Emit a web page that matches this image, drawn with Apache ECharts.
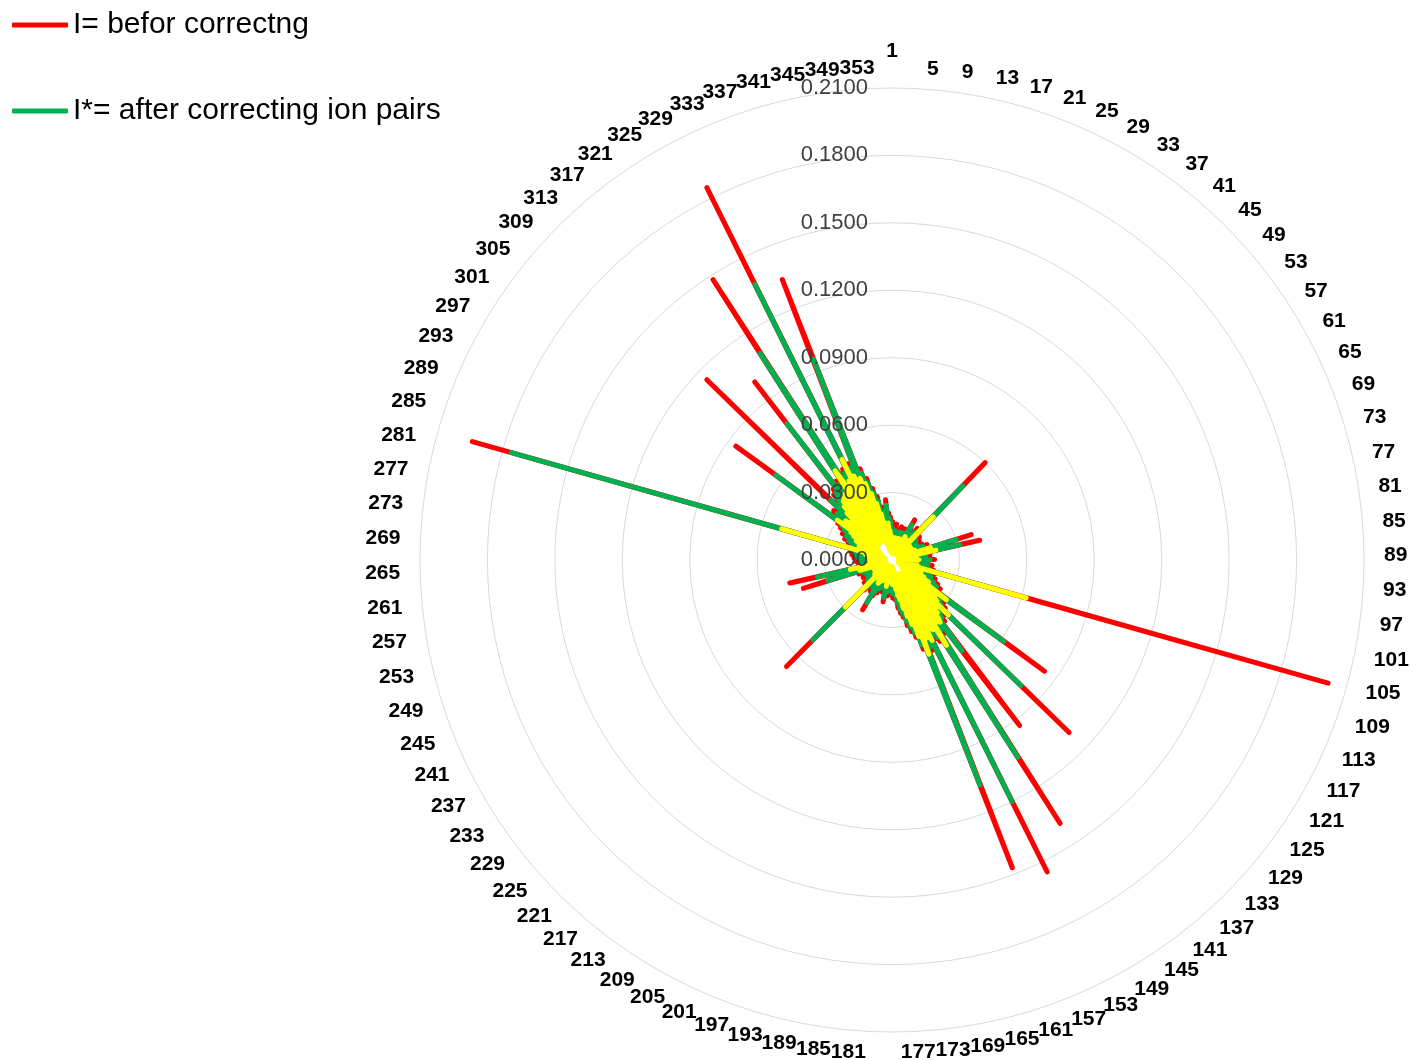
<!DOCTYPE html>
<html>
<head>
<meta charset="utf-8">
<script src="https://cdn.jsdelivr.net/npm/echarts@6/dist/echarts.min.js"></script>
<style>
  html, body { margin: 0; padding: 0; background: #ffffff; }
  #chart { width: 1416px; height: 1060px; }
</style>
</head>
<body>
<div id="chart"></div>
<script>
// 354 angular categories, labelled 1..354 (every 4th label is shown)
const categories = Array.from({ length: 354 }, (_, i) => String(i + 1));

// radial ticks
const radialMin = 0;
const radialMax = 0.21;
const radialStep = 0.03;

const legendNames = ['I= befor correctng', 'I*= after correcting ion pairs'];
const thirdName = 'Series3';

// labels near the top / bottom that hang to one side of their spoke
const labelsHangLeft = ['341', '345', '349', '353', '181', '185', '189', '193'];
const labelsHangRight = ['5', '9', '13', '17', '165', '169', '173', '177'];

// I  (before correcting)
const seriesBefore = [
  .006,.017,.005,.014,.007,.012,.005,.016,.006,.011,
  .005,.013,.007,.012,.005,.010,.0154,.006,.013,.005,
  .012,.006,.015,.005,.011,.007,.014,.005,.012,.0205,
  .006,.016,.005,.013,.007,.015,.005,.012,.018,.006,
  .014,.005,.017,.060,.006,.015,.007,.013,.005,.016,
  .006,.012,.005,.015,.007,.011,.005,.014,.006,.013,
  .005,.015,.007,.012,.005,.017,.006,.013,.005,.016,
  .007,.037,.005,.018,.006,.014,.040,.005,.016,.006,
  .013,.005,.017,.007,.012,.005,.015,.006,.019,.005,
  .014,.006,.016,.005,.013,.007,.018,.005,.015,.006,
  .017,.005,.019,.006,.2016,.006,.020,.007,.016,.005,
  .019,.006,.021,.008,.018,.006,.023,.007,.020,.025,
  .008,.022,.007,.026,.084,.009,.028,.008,.030,.010,
  .032,.009,.110,.010,.034,.028,.011,.036,.012,.038,
  .093,.010,.040,.012,.036,.139,.011,.042,.009,.040,
  .012,.155,.010,.044,.013,.038,.147,.011,.042,.009,
  .036,.010,.033,.008,.030,.009,.026,.007,.024,.008,
  .0215,.006,.018,.007,.016,.005,.017,.006,.014,.005,
  .015,.006,.013,.005,.016,.007,.012,.005,.014,.019,
  .006,.013,.005,.015,.007,.012,.005,.014,.006,.013,
  .005,.016,.007,.012,.006,.018,.005,.0257,.007,.015,
  .006,.017,.005,.013,.007,.016,.005,.014,.006,.018,
  .007,.0667,.006,.015,.005,.012,.007,.016,.005,.013,
  .006,.014,.005,.012,.007,.015,.005,.011,.006,.014,
  .005,.013,.007,.016,.005,.012,.006,.017,.0414,.006,
  .015,.005,.018,.0466,.006,.014,.007,.012,.005,.015,
  .006,.013,.005,.016,.007,.012,.005,.014,.006,.017,
  .005,.015,.007,.018,.006,.014,.005,.019,.007,.016,
  .006,.194,.007,.020,.006,.017,.008,.021,.007,.023,
  .008,.019,.009,.025,.008,.022,.010,.027,.009,.029,
  .010,.086,.011,.031,.010,.034,.012,.030,.011,.115,
  .012,.036,.013,.039,.011,.041,.014,.100,.012,.043,
  .040,.013,.148,.045,.012,.042,.046,.014,.185,.011,
  .047,.013,.044,.134,.012,.043,.010,.038,.009,.033,
  .008,.029,.007,.024,.006,.021,.007,.018,.027,.006,
  .021,.005,.019,.007
];

// I* (after correcting ion pairs)
const seriesAfter = [
  .005,.014,.004,.012,.006,.010,.004,.013,.005,.009,
  .004,.011,.006,.010,.004,.008,.013,.005,.011,.004,
  .010,.005,.013,.004,.009,.006,.012,.004,.010,.018,
  .005,.014,.004,.011,.006,.013,.004,.010,.016,.005,
  .012,.004,.015,.0456,.005,.013,.006,.011,.004,.014,
  .005,.010,.004,.013,.006,.009,.004,.012,.005,.011,
  .004,.013,.006,.010,.004,.015,.005,.011,.004,.014,
  .006,.030,.004,.016,.005,.012,.031,.004,.014,.005,
  .011,.004,.015,.006,.010,.004,.013,.005,.017,.004,
  .012,.005,.014,.004,.011,.006,.016,.004,.013,.005,
  .015,.004,.017,.005,.050,.005,.018,.006,.014,.004,
  .017,.005,.019,.007,.016,.005,.021,.006,.018,.023,
  .007,.020,.006,.024,.0616,.008,.026,.007,.028,.009,
  .030,.008,.080,.009,.032,.026,.010,.034,.011,.036,
  .051,.009,.038,.011,.034,.104,.010,.040,.008,.038,
  .011,.120,.009,.042,.012,.036,.1075,.010,.040,.008,
  .034,.009,.031,.007,.028,.008,.024,.006,.022,.007,
  .019,.005,.016,.006,.014,.004,.015,.005,.012,.004,
  .013,.005,.011,.004,.014,.006,.010,.004,.012,.017,
  .005,.011,.004,.013,.006,.010,.004,.012,.005,.011,
  .004,.014,.006,.010,.005,.016,.004,.022,.006,.013,
  .005,.015,.004,.011,.006,.014,.004,.012,.005,.016,
  .006,.050,.005,.013,.004,.010,.006,.014,.004,.011,
  .005,.012,.004,.010,.006,.013,.004,.009,.005,.012,
  .004,.011,.006,.014,.004,.010,.005,.015,.030,.005,
  .013,.004,.016,.034,.005,.012,.006,.010,.004,.013,
  .005,.011,.004,.014,.006,.010,.004,.012,.005,.015,
  .004,.013,.006,.016,.005,.012,.004,.017,.006,.014,
  .005,.176,.006,.018,.005,.015,.007,.019,.006,.021,
  .007,.017,.008,.023,.007,.020,.009,.025,.008,.027,
  .009,.064,.010,.029,.009,.032,.011,.028,.010,.038,
  .011,.034,.012,.037,.010,.039,.013,.0765,.011,.041,
  .038,.012,.109,.043,.011,.040,.044,.013,.137,.010,
  .045,.012,.042,.096,.011,.041,.009,.036,.008,.031,
  .007,.027,.006,.022,.005,.019,.006,.016,.0245,.005,
  .019,.004,.017,.006
];

// third series (drawn on top)
const seriesThird = [
  .004,.010,.003,.009,.005,.008,.003,.010,.004,.007,
  .003,.009,.005,.008,.003,.007,.010,.004,.008,.003,
  .008,.004,.010,.003,.007,.005,.009,.003,.008,.012,
  .004,.010,.003,.008,.005,.010,.003,.008,.011,.004,
  .009,.003,.011,.0266,.004,.010,.005,.008,.003,.010,
  .004,.008,.003,.010,.005,.007,.003,.009,.004,.008,
  .003,.010,.005,.008,.003,.011,.004,.008,.003,.010,
  .005,.018,.003,.011,.004,.009,.020,.003,.010,.004,
  .008,.003,.011,.005,.008,.003,.010,.004,.012,.003,
  .009,.004,.010,.003,.008,.005,.011,.003,.009,.004,
  .011,.003,.012,.004,.062,.004,.013,.005,.011,.003,
  .013,.004,.014,.006,.012,.004,.016,.005,.014,.019,
  .006,.017,.005,.021,.030,.007,.023,.006,.025,.008,
  .027,.007,.035,.008,.029,.023,.009,.031,.010,.033,
  .035,.008,.034,.010,.031,.045,.009,.036,.007,.035,
  .010,.040,.008,.038,.011,.033,.045,.009,.036,.007,
  .030,.008,.026,.006,.022,.007,.018,.005,.016,.006,
  .013,.004,.011,.005,.010,.003,.011,.004,.009,.003,
  .009,.004,.008,.003,.010,.005,.007,.003,.009,.012,
  .004,.008,.003,.009,.005,.007,.003,.008,.004,.008,
  .003,.010,.005,.007,.004,.011,.003,.012,.005,.009,
  .004,.010,.003,.008,.005,.010,.003,.008,.004,.011,
  .005,.0295,.004,.009,.003,.007,.005,.010,.003,.008,
  .004,.008,.003,.007,.005,.009,.003,.006,.004,.008,
  .003,.008,.005,.009,.003,.007,.004,.010,.015,.004,
  .009,.003,.011,.019,.004,.008,.005,.007,.003,.009,
  .004,.008,.003,.010,.005,.007,.003,.008,.004,.010,
  .003,.009,.005,.011,.004,.008,.003,.012,.005,.010,
  .004,.051,.005,.013,.004,.011,.006,.014,.005,.016,
  .006,.013,.007,.018,.006,.016,.008,.020,.007,.022,
  .008,.030,.009,.024,.008,.027,.010,.023,.009,.025,
  .010,.029,.011,.032,.009,.034,.012,.035,.010,.036,
  .033,.011,.047,.038,.010,.036,.040,.012,.050,.009,
  .041,.011,.038,.039,.010,.036,.008,.031,.007,.026,
  .006,.021,.005,.017,.004,.014,.005,.012,.0165,.004,
  .013,.003,.011,.005
];

// [radius, angleIndex] pairs; the first point is repeated at the end to close the ring
function ringPoints(values) {
  const pts = values.map((v, i) => [v, i]);
  pts.push([values[0], values.length]);
  return pts;
}

const CENTER = [892, 560];
const RADIUS = 472;
const LABEL_FONT = 'Liberation Sans';
const DIGIT_W = 11.7;

const chart = echarts.init(document.getElementById('chart'), null, { renderer: 'canvas' });

const lineSeries = (name, values, color) => ({
  name: name,
  type: 'line',
  coordinateSystem: 'polar',
  polarIndex: 0,
  data: ringPoints(values),
  symbol: 'none',
  showSymbol: false,
  smooth: false,
  lineStyle: { color: color, width: 5, cap: 'round', join: 'round' },
  itemStyle: { color: color },
  emphasis: { disabled: true },
  animation: false
});

// Rich styles for the ring labels. A 1px line box keeps each label vertically
// centred on its anchor point; side padding makes a centred label hang beside its spoke.
const labelBase = { fontFamily: LABEL_FONT, fontWeight: 'bold', fontSize: 21, color: '#000000' };
const rich = {
  n: Object.assign({ lineHeight: 1 }, labelBase),
  top: Object.assign({ padding: [0, 0, 6, 0] }, labelBase)
};
[1, 2, 3].forEach(len => {
  rich['l' + len] = Object.assign({ lineHeight: 1, padding: [0, Math.round(len * DIGIT_W), 0, 0] }, labelBase);
  rich['r' + len] = Object.assign({ lineHeight: 1, padding: [0, 0, 0, Math.round(len * DIGIT_W)] }, labelBase);
});

function angleLabel(v) {
  const text = categories[v];
  if (!text) return '';
  if (v === 0) return '{top|' + text + '}';
  if (labelsHangLeft.includes(text)) return '{l' + text.length + '|' + text + '}';
  if (labelsHangRight.includes(text)) return '{r' + text.length + '|' + text + '}';
  return '{n|' + text + '}';
}

chart.setOption({
  backgroundColor: '#ffffff',
  animation: false,
  legend: {
    data: legendNames,
    orient: 'vertical',
    left: 12,
    top: 8,
    padding: 0,
    icon: 'roundRect',
    itemWidth: 56,
    itemHeight: 5,
    itemGap: 52,
    textStyle: {
      fontFamily: 'Liberation Sans',
      fontSize: 30,
      lineHeight: 34,
      color: '#000000'
    }
  },
  polar: [
    { center: CENTER, radius: RADIUS },
    { center: CENTER, radius: RADIUS }
  ],
  angleAxis: [
    {
      polarIndex: 0,
      type: 'value',
      min: 0,
      max: categories.length,
      interval: 4,
      startAngle: 90,
      clockwise: true,
      axisLine: { show: false },
      axisTick: { show: false },
      splitLine: { show: false },
      axisLabel: {
        margin: 20,
        fontFamily: LABEL_FONT,
        fontWeight: 'bold',
        fontSize: 21,
        color: '#000000',
        formatter: angleLabel,
        rich: rich
      }
    },
    {
      polarIndex: 1,
      type: 'value',
      min: 0,
      max: categories.length,
      startAngle: 90,
      clockwise: true,
      show: false
    }
  ],
  radiusAxis: [
    {
      polarIndex: 0,
      type: 'value',
      min: radialMin,
      max: radialMax,
      interval: radialStep,
      axisLine: { show: false },
      axisTick: { show: false },
      axisLabel: { show: false },
      splitLine: { show: true, lineStyle: { color: '#d9d9d9', width: 1 } }
    },
    {
      polarIndex: 1,
      type: 'value',
      min: radialMin,
      max: radialMax,
      interval: radialStep,
      z: 10,
      axisLine: { show: false },
      axisTick: { show: false },
      splitLine: { show: false },
      axisLabel: {
        margin: 24,
        fontFamily: 'Liberation Sans',
        fontSize: 22,
        color: '#404040',
        formatter: v => v.toFixed(4)
      }
    }
  ],
  series: [
    lineSeries(legendNames[0], seriesBefore, '#ff0000'),
    lineSeries(legendNames[1], seriesAfter, '#00b050'),
    lineSeries(thirdName, seriesThird, '#ffff00')
  ]
});
</script>
</body>
</html>
